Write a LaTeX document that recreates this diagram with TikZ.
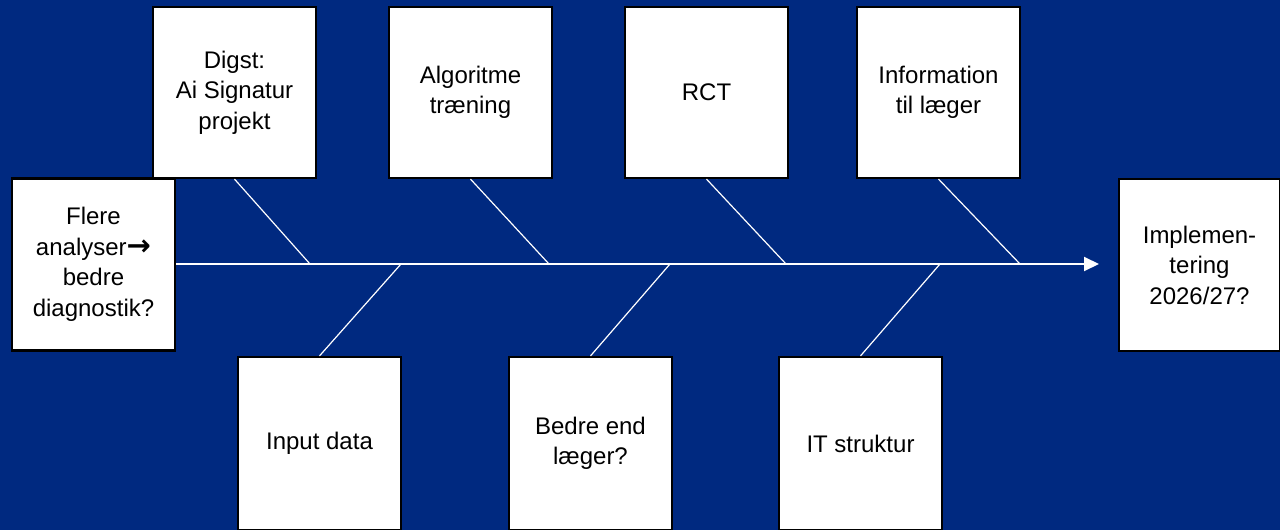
\documentclass[tikz,border=0pt]{standalone}
\usepackage{fontspec}
\setmainfont{Liberation Sans}
\newfontfamily\arrowfont{DejaVu Sans}
\usetikzlibrary{arrows.meta}
\definecolor{bgblue}{RGB}{0,41,128}
\tikzset{
  box/.style={draw=black, line width=2.2pt, fill=white, minimum width=163pt,
    minimum height=171pt, inner sep=0pt, align=center,
    font=\fontsize{24}{30.5}\selectfont},
  bone/.style={draw=white, line width=1.2pt}
}
\begin{document}
\begin{tikzpicture}[x=1pt, y=-1pt]
            \fill[bgblue] (0,0) rectangle (1280,530);
            \useasboundingbox (0,0) rectangle (1280,530);

            % head and tail
            \node[box, minimum height=172pt] (cause) at (93.5,264.5) {Flere\\analyser{\arrowfont\bfseries\fontsize{29}{30.5}\selectfont →}\\bedre\\diagnostik?};
            \node[box, minimum width=161pt, minimum height=172pt] (effect) at (1199.5,265) {Implemen-\\tering\\2026/27?};

            % upper causes
            \node[box] (digst) at (234.5,92.5) {Digst:\\Ai Signatur\\projekt};
            \node[box] (train) at (470.5,92.5) {Algoritme\\træning};
            \node[box] (rct) at (706.5,92.5) {RCT};
            \node[box] (info) at (938.5,92.5) {Information\\til læger};

            % lower causes
            \node[box, minimum height=173pt] (input) at (319.5,443.5) {Input data};
            \node[box, minimum height=173pt] (better) at (590.5,443.5) {Bedre end\\læger?};
            \node[box, minimum height=173pt] (itinfra) at (860.5,443.5) {IT struktur};

            % spine
            \path (310,264) coordinate (s1);
            \path (401,264) coordinate (s2);
            \path (549,264) coordinate (s3);
            \path (670,264) coordinate (s4);
            \path (786,264) coordinate (s5);
            \path (940,264) coordinate (s6);
            \path (1020,264) coordinate (s7);
            \path (1099,264) coordinate (tip);
            \draw[white, line width=2pt, -{Triangle[length=15pt,width=14pt]}] (cause.east |- s1) -- (tip);

            \draw[bone] (digst.south) -- (s1);
            \draw[bone] (train.south) -- (s3);
            \draw[bone] (rct.south) -- (s5);
            \draw[bone] (info.south) -- (s7);
            \draw[bone] (input.north) -- (s2);
            \draw[bone] (better.north) -- (s4);
            \draw[bone] (itinfra.north) -- (s6);
        \end{tikzpicture}
\end{document}
